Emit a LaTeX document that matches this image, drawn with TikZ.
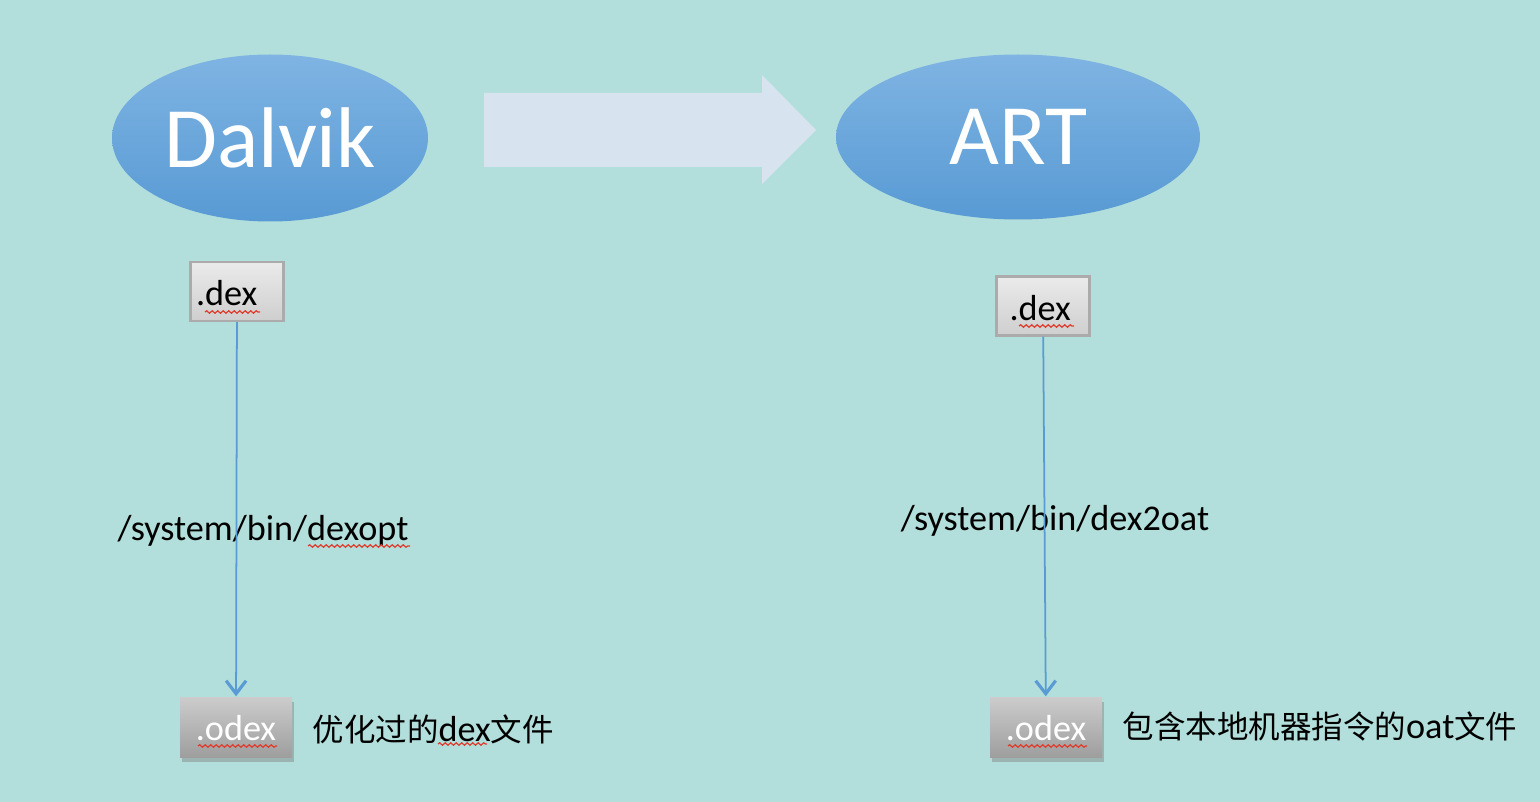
\documentclass[tikz,border=0pt]{standalone}
\usepackage{fontspec}
\setmainfont{Carlito}
\newfontfamily\cjk[Scale=0.87]{Noto Sans CJK SC}
\usetikzlibrary{arrows.meta,shapes.geometric,shadows,decorations.pathmorphing}

\definecolor{bgteal}{RGB}{178,223,219}
\definecolor{ovaltop}{RGB}{127,180,227}
\definecolor{ovalbot}{RGB}{88,154,212}
\definecolor{bigarrow}{RGB}{215,228,240}
\definecolor{flowblue}{RGB}{91,155,213}
\definecolor{spellred}{RGB}{222,60,45}

\tikzset{
  oval/.style={ellipse, inner sep=0pt, top color=ovaltop, bottom color=ovalbot,
    text=white, font=\fontsize{24.5}{30}\selectfont},
  dexbox/.style={rectangle, draw=black!33, line width=0.6pt, top color=black!8,
    bottom color=black!19, minimum width=9.3mm, minimum height=5.9mm,
    inner xsep=0.55mm, inner ysep=0pt, text width=8.2mm, align=left,
    text height=3.0mm, text depth=0.2mm},
  odexbox/.style={rectangle, top color=black!20, bottom color=black!38, text=white,
    minimum width=11.2mm, minimum height=6mm, inner sep=0pt,
    text height=3.0mm, text depth=0.3mm,
    drop shadow={shadow xshift=0.2mm, shadow yshift=-0.5mm, opacity=0.45}},
  flow/.style={draw=flowblue, line width=0.5pt,
    -{Straight Barb[length=1.3mm, width=2mm, line width=0.9pt]}},
  spell/.style={draw=spellred, line width=0.35pt,
    decorate, decoration={snake, amplitude=0.12mm, segment length=0.55mm}}
}

\begin{document}
\begin{tikzpicture}[x=0.1mm, y=-0.1mm, font=\fontsize{10.3}{12}\selectfont]
\fill[bgteal] (0,0) rectangle (1540,802);
\useasboundingbox (0,0) rectangle (1540,802);

% runtimes
\node[oval, minimum width=31.6mm, minimum height=16.7mm] (dalvik) at (270,138) {Dalvik};
\node[oval, minimum width=36.4mm, minimum height=16.5mm] (art) at (1018,137) {ART};

% the big arrow
\fill[bigarrow] (484,93) -- (762,93) -- (762,75) -- (816,130)
  -- (762,184) -- (762,167) -- (484,167) -- cycle;

% files
\node[dexbox] (dex1) at (237,291.5) {.dex};
\node[dexbox, inner xsep=1.3mm, text width=6.7mm] (dex2) at (1043,306) {.dex};
\node[odexbox] (odex1) at (236,727) {.odex};
\node[odexbox] (odex2) at (1046,727) {.odex};

% tools
\node (dexopt) at (263,531) {/system/bin/dexopt};
\node (dex2oat) at (1055,521) {/system/bin/dex2oat};

\draw[flow] (dex1) -- (odex1);
\draw[flow] (dex2) -- (odex2);

% notes
\node[anchor=west, inner sep=0pt] (note1) at (312,729) {{\cjk 优化过的}dex{\cjk 文件}};
\node[anchor=west, inner sep=0pt] (note2) at (1122,726) {{\cjk 包含本地机器指令的}oat{\cjk 文件}};

% spell check marks
\draw[spell] (205,312) -- (260,312);
\draw[spell] (1019,326) -- (1074,326);
\draw[spell] (198,746) -- (277,746);
\draw[spell] (1008,746) -- (1087,746);
\draw[spell] (308,546) -- (410,546);
\draw[spell] (438,744) -- (487,744);
\end{tikzpicture}
\end{document}
